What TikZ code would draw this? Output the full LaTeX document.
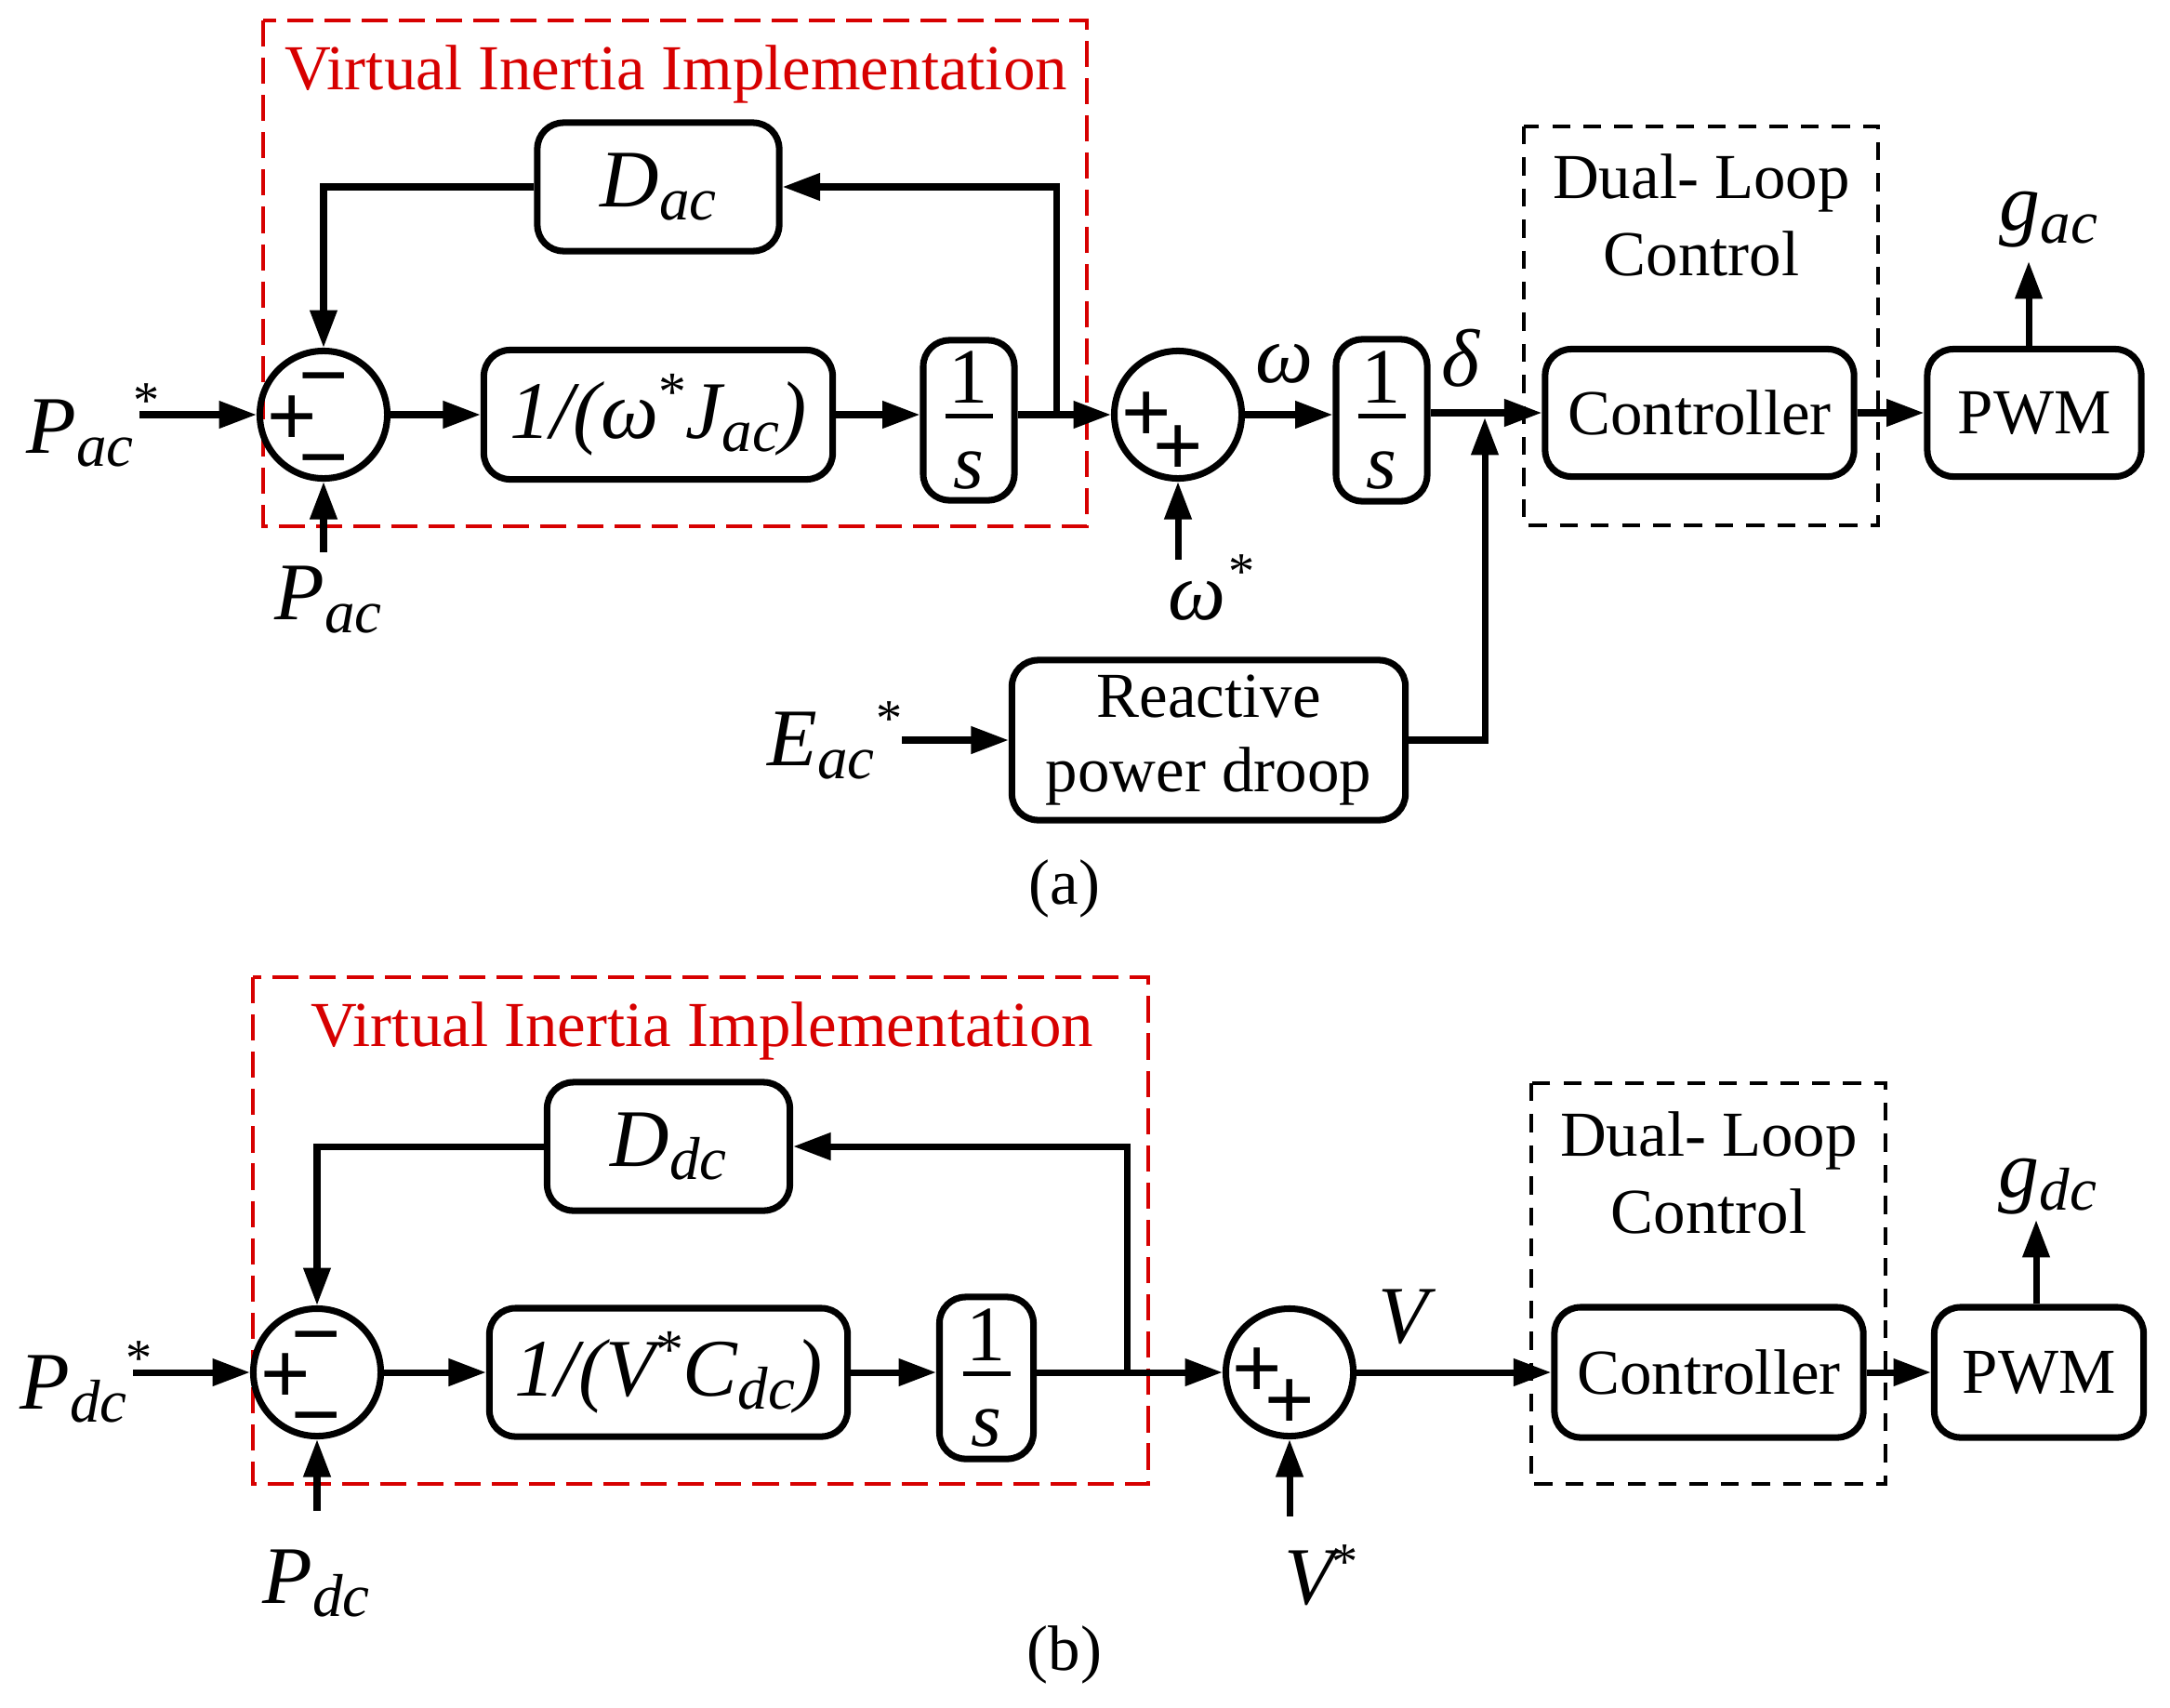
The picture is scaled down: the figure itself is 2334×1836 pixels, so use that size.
\documentclass[tikz,border=0pt]{standalone}
\usepackage{fontspec}
\setmainfont{Liberation Serif}
\newfontfamily\sgnfont{Liberation Sans}
\usetikzlibrary{arrows.meta}
\definecolor{vired}{RGB}{215,0,0}
\newcommand\txtf{\fontsize{19.6}{23.6}\selectfont}
\newcommand\mthf{\fontsize{25}{28}\selectfont\itshape}
\newcommand\sbf{\fontsize{18.5}{22}\selectfont\itshape}
\newcommand\stf{\fontsize{16}{18}\selectfont\upshape}
\newcommand\fracf{\fontsize{24}{26}\selectfont}
\newcommand\sbs[1]{\raisebox{-4pt}{\sbf #1}}
\newcommand\sps{\raisebox{8.5pt}{\fontsize{17}{18}\selectfont\upshape *}}
\newcommand\ints{\vbox{\offinterlineskip
  \hbox to 0.6cm{\hss\fracf 1\hss}\kern3.2pt
  \hbox to 0.6cm{\hss\rule{0.51cm}{1.5pt}\hss}\kern10.2pt
  \hbox to 0.6cm{\hss\fracf\itshape s\hss}}}
\begin{document}
\begin{tikzpicture}[x=0.01cm,y=-0.01cm,
  blk/.style={draw, line width=2pt, rounded corners=8pt, inner sep=0pt, align=center},
  sumc/.style={draw, circle, line width=2pt, inner sep=0pt, minimum size=1.37cm},
  sig/.style={-{Triangle[length=11.5pt,width=8pt]}, line width=2pt},
  sgn/.style={font=\sgnfont\fontsize{26}{26}\selectfont, inner sep=0pt, anchor=base},
  lab/.style={anchor=base west, inner sep=0pt},
  st/.style={font=\stf, inner sep=0pt, anchor=base},
  txt/.style={font=\txtf, inner sep=0pt},
  redtxt/.style={font=\txtf, text=vired, inner sep=0pt, anchor=base},
  redbox/.style={draw=vired, line width=1.2pt, dash pattern=on 8pt off 3.4pt},
  dbox/.style={draw, line width=1pt, dash pattern=on 5.5pt off 4pt},
]
\useasboundingbox (0,0) rectangle (2334,1836);

%================ (a) ================
\draw[redbox] (283,22) rectangle (1169,566);
\node[redtxt] (ta) at (727,97) {Virtual Inertia Implementation};
\draw[dbox] (1639,136) rectangle (2020,565);
\node[txt, align=center] (dla) at (1830,231) {Dual- Loop\\Control};

\node[blk, minimum width=2.6cm, minimum height=1.38cm] (Dac) at (708,201) {\mthf D\sbs{ac}};
\node[sumc] (S1) at (348,446) {};
\node[sgn] (S1p) at (314,478) {+};
\node[sgn] (S1t) at (348,434) {−};
\node[sgn] (S1b) at (348,522) {−};
\node[blk, minimum width=3.75cm, minimum height=1.39cm] (J) at (708,446) {\mthf 1/(ω\sps J\sbs{ac})};
\node[blk, minimum width=0.98cm, minimum height=1.72cm] (I1) at (1042,452) {\ints};
\node[sumc] (S2) at (1267,446) {};
\node[sgn] (S2a) at (1233,474) {+};
\node[sgn] (S2b) at (1267,510) {+};
\node[blk, minimum width=0.98cm, minimum height=1.74cm] (I2) at (1486,452) {\ints};
\node[blk, minimum width=3.32cm, minimum height=1.37cm, font=\txtf] (Ctl) at (1828,444) {Controller};
\node[blk, minimum width=2.3cm, minimum height=1.37cm, font=\txtf] (PWM) at (2188,444) {PWM};
\node[blk, minimum width=4.23cm, minimum height=1.72cm, font=\fontsize{19.6}{22.8}\selectfont] (Droop) at (1300,796) {Reactive\\power droop};

% labels
\node[lab] (Pacs) at (28,487) {\mthf P\sbs{ac}};
\node[st] (Pacst) at (158,449) {*};
\node[lab] (Pac) at (295,666) {\mthf P\sbs{ac}};
\node[lab] (ws) at (1256,666) {\mthf ω};
\node[st] (wsst) at (1336,633) {*};
\node[lab] (wl) at (1350,411) {\mthf ω};
\node[lab] (dl) at (1550,415) {\mthf δ};
\node[lab] (Eac) at (825,823) {\mthf E\sbs{ac}};
\node[st] (Eacst) at (957,791) {*};
\node[lab] (gac) at (2150,247) {\mthf g\sbs{ac}};
\node[txt] (capa) at (1145,956) {(a)};

% connectors
\coordinate (pin) at (150,446);
\coordinate (pmeas) at (348,594);
\coordinate (b1) at (1136,446);
\coordinate (wst) at (1267,602);
\coordinate (jt) at (1597,449);
\coordinate (ein) at (970,796);
\coordinate (gtop) at (2182,281);
\draw[sig] (pin) -- (S1.west);
\draw[sig] (Dac.west) -| (S1.north);
\draw[sig] (pmeas) -- (S1.south);
\draw[sig] (S1.east) -- (J.west);
\draw[sig] (J.east) -- (J.east -| I1.west);
\draw[sig] (I1.east |- S2.west) -- (S2.west);
\draw[sig] (b1) |- (Dac.east);
\draw[sig] (wst) -- (S2.south);
\draw[sig] (S2.east) -- (S2.east -| I2.west);
\draw[sig] (I2.east |- Ctl.west) -- (Ctl.west);
\draw[sig] (Droop.east) -| (jt);
\draw[sig] (ein) -- (Droop.west);
\draw[sig] (Ctl.east) -- (PWM.west);
\draw[sig] (gtop |- PWM.north) -- (gtop);

%================ (b) ================
\draw[redbox] (272,1051) rectangle (1235,1596);
\node[redtxt] (tb) at (755,1125) {Virtual Inertia Implementation};
\draw[dbox] (1647,1165) rectangle (2028,1596);
\node[txt, align=center] (dlb) at (1838,1261) {Dual- Loop\\Control};

\node[blk, minimum width=2.61cm, minimum height=1.38cm] (Ddc) at (719,1233) {\mthf D\sbs{dc}};
\node[sumc] (T1) at (341,1476) {};
\node[sgn] (T1p) at (307,1508) {+};
\node[sgn] (T1t) at (340,1465) {−};
\node[sgn] (T1b) at (340,1552) {−};
\node[blk, minimum width=3.85cm, minimum height=1.38cm] (Jb) at (719,1476) {\mthf 1/(V\sps C\sbs{dc})};
\node[blk, minimum width=1.01cm, minimum height=1.74cm] (Ib) at (1061,1482) {\ints};
\node[sumc] (T2) at (1387,1476) {};
\node[sgn] (T2a) at (1352,1502) {+};
\node[sgn] (T2b) at (1387,1536) {+};
\node[blk, minimum width=3.32cm, minimum height=1.4cm, font=\txtf] (Ctlb) at (1838,1476) {Controller};
\node[blk, minimum width=2.25cm, minimum height=1.4cm, font=\txtf] (PWMb) at (2193,1476) {PWM};

\node[lab] (Pdcs) at (21,1515) {\mthf P\sbs{dc}};
\node[st] (Pdcst) at (150,1479) {*};
\node[lab] (Pdc) at (282,1724) {\mthf P\sbs{dc}};
\node[lab] (Vs) at (1381,1725) {\mthf V};
\node[st] (Vsst) at (1447,1698) {*};
\node[lab] (Vl) at (1482,1444) {\mthf V};
\node[lab] (gdc) at (2149,1287) {\mthf g\sbs{dc}};
\node[txt] (capb) at (1145,1780) {(b)};

\coordinate (qin) at (143,1476);
\coordinate (qmeas) at (341,1625);
\coordinate (b2) at (1212,1476);
\coordinate (vst) at (1387,1631);
\coordinate (gtopb) at (2190,1312);
\draw[sig] (qin) -- (T1.west);
\draw[sig] (Ddc.west) -| (T1.north);
\draw[sig] (qmeas) -- (T1.south);
\draw[sig] (T1.east) -- (Jb.west);
\draw[sig] (Jb.east) -- (Jb.east -| Ib.west);
\draw[sig] (Ib.east |- T2.west) -- (T2.west);
\draw[sig] (b2) |- (Ddc.east);
\draw[sig] (vst) -- (T2.south);
\draw[sig] (T2.east) -- (Ctlb.west);
\draw[sig] (Ctlb.east) -- (PWMb.west);
\draw[sig] (gtopb |- PWMb.north) -- (gtopb);
\end{tikzpicture}
\end{document}
